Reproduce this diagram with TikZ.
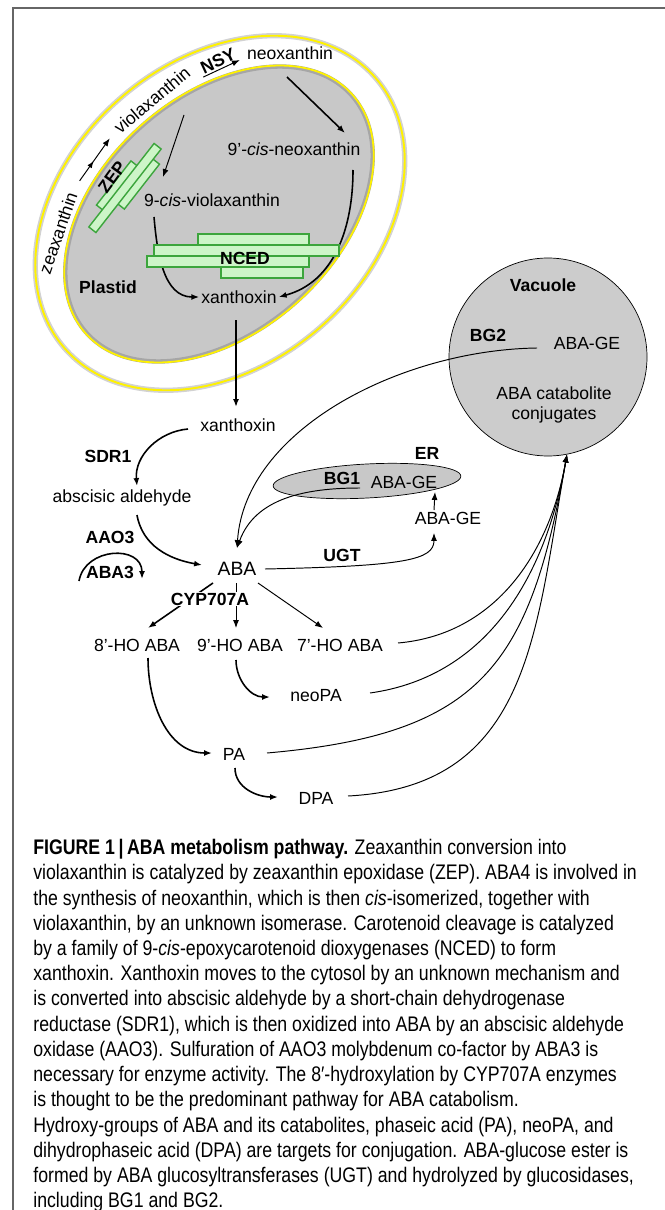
\documentclass[tikz,border=0pt]{standalone}
\usepackage{fontspec}
\setmainfont{Liberation Sans}
\newfontfamily\capfont[FakeStretch=0.84]{Liberation Sans}
\usetikzlibrary{arrows.meta,shapes.geometric,calc,decorations.markings}
\definecolor{leafline}{RGB}{60,165,60}
\definecolor{leaffill}{RGB}{205,245,200}

\begin{document}
\begin{tikzpicture}[x=0.2mm, y=-0.2mm, >={Latex[length=4.5pt,width=3.4pt]}]
	\tikzstyle{every node} = [inner sep=1pt, font=\fontsize{10}{11.5}\selectfont]
	\tikzstyle{enz} = [font=\fontsize{10}{12}\selectfont\bfseries]
	\tikzstyle{arr} = [line width=0.9pt, ->]
	\tikzstyle{slim} = [line width=0.55pt, ->]
	\tikzstyle{leaf} = [draw=leafline, fill=leaffill, line width=0.8pt]
	\useasboundingbox (0,0) rectangle (665,1210);
	\draw [gray!80!black, line width=0.9pt] (13,1210) -- (13,8) -- (665,8);

	% plastid
	\draw [gray!35, line width=3pt, shift={(220,213)}, rotate=41] (0,0) ellipse [x radius=206, y radius=152];
	\draw [yellow, line width=1.1pt, shift={(220,213)}, rotate=41] (0,0) ellipse [x radius=206, y radius=152];
	\filldraw [fill=gray!43, draw=gray!70, line width=2.5pt, shift={(219,214)}, rotate=42] (0,0) ellipse [x radius=178, y radius=117];
	\draw [yellow, line width=1pt, shift={(219,214)}, rotate=42] (0,0) ellipse [x radius=179, y radius=118];

	\node [rotate=71] (zea) at (58,233) {zeaxanthin};
	\node [rotate=40] (vio) at (152,100) {violaxanthin};
	\node [enz, rotate=25] (nsy) at (218,61) {NSY};
	\node (neo) at (290,53) {neoxanthin};
	\draw [slim, shorten <=7pt, shorten >=5pt, postaction={decorate}, decoration={markings, mark=at position 0.5 with {\arrow{Latex[length=4pt,width=3pt]}}}] (zea.east) -- (vio.west);
	\draw [slim] (nsy.south west) -- (nsy.south east);

	\node (cisneo) at (294,149) {9'-\textit{cis}-neoxanthin};
	\node (cisvio) at (212,200) {9-\textit{cis}-violaxanthin};
	\node [enz] (plastid) at (108,287) {Plastid};
	\node (xanp) at (239,297) {xanthoxin};
	\draw [arr] ($(neo)+(-3,24)$) -- ($(cisneo)+(51,-16)$);
	\draw [slim] ($(vio)+(32,15)$) -- ($(cisvio)+(-49,-23)$);
	\draw [arr] ($(cisvio)+(-58,17)$) to[out=-85, in=180] (xanp.west);
	\draw [arr] ($(cisneo)+(59,21)$) to[out=-90, in=15] (xanp.east);

	% ZEP and NCED
	\begin{scope}[shift={(125,188)}, rotate=52]
		\draw [leaf] (-31,-12) rectangle (25,-3);
		\draw [leaf] (-17,3.5) rectangle (40,12.5);
		\draw [leaf] (-53,-4.5) rectangle (53,4.5);
	\end{scope}
	\node [enz, rotate=54] (zep) at (112,177) {ZEP};
	\draw [leaf] (198,234) rectangle (309,245);
	\draw [leaf] (154,245) rectangle (339,256);
	\draw [leaf] (147,256) rectangle (309,267);
	\draw [leaf] (221,267) rectangle (303,278);
	\node [enz] (nced) at (245,258) {NCED};

	% cytosol
	\node (xanc) at (238,425) {xanthoxin};
	\draw [arr] ($(xanp)+(-3,23)$) -- ($(xanc)+(-2,-18)$);
	\node [enz] (sdr) at (108,456) {SDR1};
	\node (ald) at (122,498) {abscisic aldehyde};
	\draw [arr] ($(xanc)+(-50,4)$) to[out=185, in=95] ($(ald)+(15,-12)$);
	\node [enz] (aao) at (110,537) {AAO3};
	\node [enz] (abathree) at (110,572) {ABA3};
	\node [font=\fontsize{11}{13}\selectfont] (aba) at (237,569) {ABA};
	\draw [arr] ($(ald)+(15,17)$) to[out=-80, in=170] ($(aba)+(-35,-4)$);
	\draw [arr] ($(abathree)+(-31,9)$) to[out=80, in=90, looseness=1.4] ($(abathree)+(32,7)$);

	\node (ho8) at (137,645) {8'-HO ABA};
	\node (ho9) at (240,645) {9'-HO ABA};
	\node (ho7) at (340,645) {7'-HO ABA};
	\draw [arr] ($(aba)+(-24,14)$) -- ($(ho8)+(11,-17)$);
	\draw [slim] ($(aba)+(-1,14)$) -- ($(ho9)+(-4,-17)$);
	\draw [slim] ($(aba)+(21,14)$) -- ($(ho7)+(-17,-17)$);
	\node [enz, fill=white, inner sep=0.5pt] (cyp) at (210,599) {CYP707A};

	\node (neopa) at (316,696) {neoPA};
	\node (pa) at (234,754) {PA};
	\node (dpa) at (316,798) {DPA};
	\draw [arr] ($(ho9)+(-4,15)$) to[out=-90, in=180] ($(neopa)+(-46,1)$);
	\draw [arr] ($(ho8)+(11,13)$) to[out=-90, in=180] ($(pa)+(-22,-1)$);
	\draw [arr] ($(pa)+(1,14)$) to[out=-90, in=180] ($(dpa)+(-38,-1)$);

	% ER
	\node [ellipse, draw, fill=gray!43, rotate=3, minimum width=37.6mm, minimum height=6.8mm] (er) at (367,481) {};
	\node [enz] (erlab) at (427,453) {ER};
	\node [enz] (bgone) at (342,478) {BG1};
	\node (geer) at (404,482) {ABA-GE};
	\node (gelow) at (448,518) {ABA-GE};
	\node [enz] (ugt) at (342,555) {UGT};
	\draw [slim] ($(aba)+(28,0)$) .. controls ($(aba)+(168,-3)$) and ($(gelow)+(-14,42)$) .. ($(gelow)+(-14,15)$);
	\draw [slim] ($(gelow)+(-14,-8)$) -- ($(geer)+(31,10)$);

	% vacuole
	\node [circle, draw, fill=gray!40, minimum size=39.6mm, inner sep=0] (vac) at (548,357) {};
	\node [enz] (vaclab) at (543,285) {Vacuole};
	\node [enz] (bgtwo) at (488,335) {BG2};
	\node (gevac) at (587,343) {ABA-GE};
	\node [align=center, font=\fontsize{10}{11.3}\selectfont] (conj) at (554,405) {ABA catabolite\\conjugates};

	\draw [slim] ($(bgone)+(18,10)$) to[out=180, in=70] ($(aba)+(0,-21)$);
	\draw [slim] ($(bgtwo)+(49,13)$) .. controls ($(bgtwo)+(-88,15)$) and ($(aba)+(8,-139)$) .. ($(aba)+(0,-21)$);

	\draw [slim] ($(ho7)+(58,-2)$) to[out=5, in=-100] (vac.-79);
	\draw [slim] ($(neopa)+(54,-3)$) to[out=8, in=-100] (vac.-79);
	\draw [slim] ($(pa)+(33,-1)$) to[out=5, in=-100, looseness=1.3] (vac.-79);
	\draw [slim] ($(dpa)+(32,-2)$) to[out=3, in=-100, looseness=1.15] (vac.-79);

	% caption
	\node [anchor=north west, align=left, inner sep=0, font=\capfont\fontsize{12}{14.35}\selectfont] (cap) at (33,839) {%
		\textbf{FIGURE 1\,|\,ABA metabolism pathway.} Zeaxanthin conversion into\\
		violaxanthin is catalyzed by zeaxanthin epoxidase (ZEP). ABA4 is involved in\\
		the synthesis of neoxanthin, which is then \textit{cis}-isomerized, together with\\
		violaxanthin, by an unknown isomerase. Carotenoid cleavage is catalyzed\\
		by a family of 9-\textit{cis}-epoxycarotenoid dioxygenases (NCED) to form\\
		xanthoxin. Xanthoxin moves to the cytosol by an unknown mechanism and\\
		is converted into abscisic aldehyde by a short-chain dehydrogenase\\
		reductase (SDR1), which is then oxidized into ABA by an abscisic aldehyde\\
		oxidase (AAO3). Sulfuration of AAO3 molybdenum co-factor by ABA3 is\\
		necessary for enzyme activity. The 8′-hydroxylation by CYP707A enzymes\\
		is thought to be the predominant pathway for ABA catabolism.\\
		Hydroxy-groups of ABA and its catabolites, phaseic acid (PA), neoPA, and\\
		dihydrophaseic acid (DPA) are targets for conjugation. ABA-glucose ester is\\
		formed by ABA glucosyltransferases (UGT) and hydrolyzed by glucosidases,\\
		including BG1 and BG2.};
\end{tikzpicture}
\end{document}
